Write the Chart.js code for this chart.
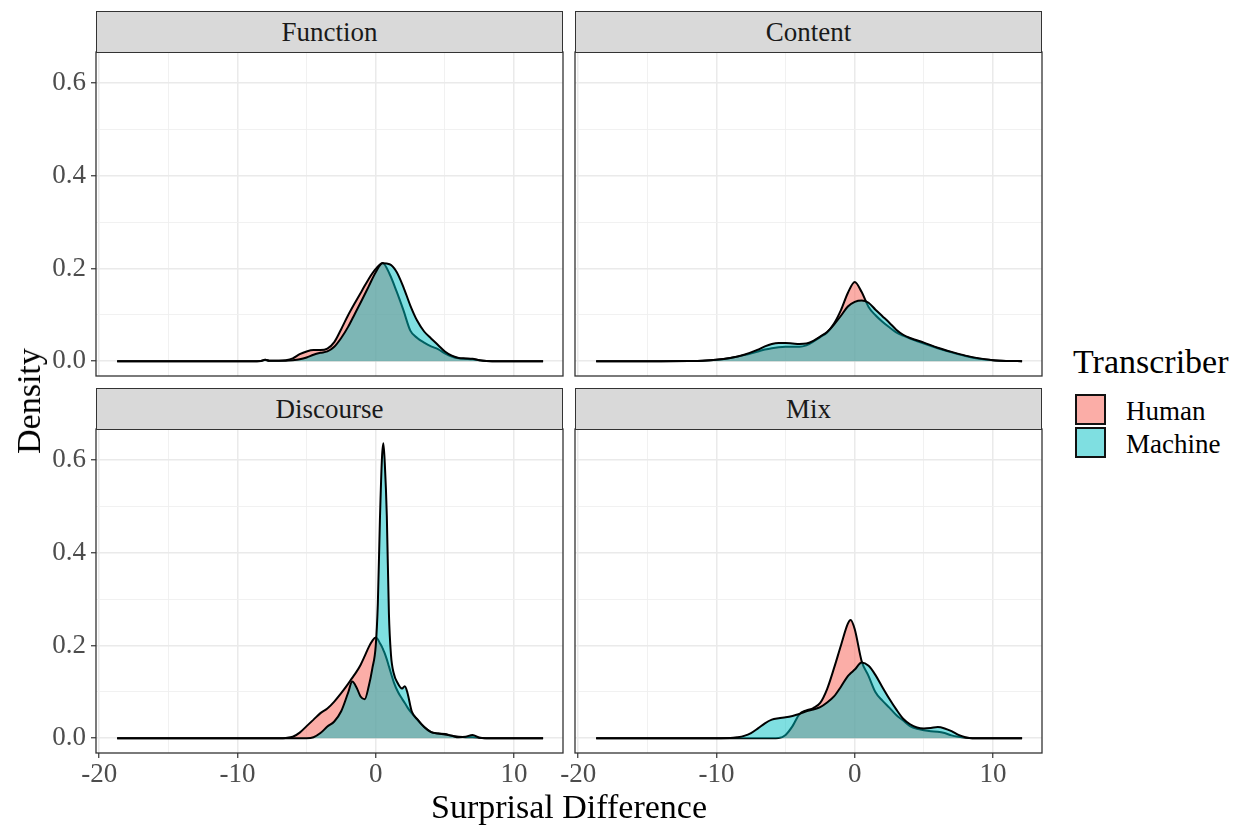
<!DOCTYPE html>
<html>
<head>
<meta charset="utf-8">
<script src="https://cdn.jsdelivr.net/npm/chart.js@4.4.0/dist/chart.umd.min.js"></script>
<style>
  body { margin: 0; background: #fff; }
  #fig { position: relative; width: 1246px; height: 827px; overflow: hidden;
         font-family: "Liberation Serif", "DejaVu Serif", serif; }
  #fig canvas { position: absolute; }
  .strip { position: absolute; box-sizing: border-box; background: #D9D9D9; border: 1.2px solid #333;
           color: #1A1A1A; font-size: 27px; display: flex; align-items: center; justify-content: center; }
  .title { position: absolute; font-size: 34px; line-height: 34px; color: #000; white-space: nowrap; }
  .key { position: absolute; left: 1075px; width: 31px; height: 31px; box-sizing: border-box; border: 2px solid #111; }
  .keylab { position: absolute; left: 1126px; font-size: 27px; line-height: 27px; color: #000; }
</style>
</head>
<body>
<div id="fig"></div>
<script>
// axis ticks (minor ones only carry a grid line)
const xTicks = [-20, -15, -10, -5, 0, 5, 10];
const xMajor = [-20, -10, 0, 10];
const yTicks = [0, 0.1, 0.2, 0.3, 0.4, 0.5, 0.6];
const yMajor = [0, 0.2, 0.4, 0.6];

const seriesNames = ['Human', 'Machine'];

// Function
const functionX = [-18.7, -12, -9, -8.3, -8, -7.7, -7, -6.5, -6, -5.5, -5, -4.5, -4, -3.5, -3, -2.5, -2, -1.5, -1, -0.5,
  0, 0.5, 1, 1.5, 2, 2.5, 3, 3.5, 4, 4.5, 5, 5.5, 6, 6.5, 7, 7.5, 8, 9, 12.1];
const functionHuman = [0, 0, 0, 0.0005, 0.003, 0.001, 0.001, 0.002, 0.006, 0.015, 0.021, 0.024, 0.024, 0.027, 0.041, 0.069, 0.099, 0.126, 0.152, 0.178,
  0.199, 0.212, 0.188, 0.151, 0.110, 0.066, 0.050, 0.040, 0.032, 0.026, 0.017, 0.010, 0.006, 0.005, 0.004, 0.002, 0.0005, 0, 0];
const functionMachine = [0, 0, 0, 0.0005, 0.003, 0.001, 0.001, 0.001, 0.002, 0.004, 0.008, 0.014, 0.018, 0.021, 0.031, 0.050, 0.074, 0.103, 0.132, 0.162,
  0.192, 0.211, 0.209, 0.193, 0.160, 0.120, 0.087, 0.064, 0.049, 0.035, 0.021, 0.012, 0.007, 0.006, 0.005, 0.002, 0.0005, 0, 0];

// Content
const contentX = [-18.7, -14, -12, -11, -10, -9, -8, -7, -6.5, -6, -5.5, -5, -4.5, -4, -3.5, -3, -2.5, -2, -1.5, -1, -0.5,
  0, 0.5, 1, 1.5, 2, 2.5, 3, 3.5, 4, 5, 6, 7, 8, 9, 10, 11, 12.1];
const contentHuman = [0, 0, 0.0003, 0.001, 0.003, 0.007, 0.013, 0.021, 0.025, 0.028, 0.030, 0.031, 0.031, 0.031, 0.034, 0.042, 0.052, 0.062, 0.081, 0.110, 0.147,
  0.171, 0.149, 0.117, 0.099, 0.085, 0.073, 0.062, 0.055, 0.049, 0.038, 0.028, 0.019, 0.011, 0.005, 0.002, 0.0005, 0];
const contentMachine = [0, 0, 0.0003, 0.001, 0.003, 0.007, 0.014, 0.025, 0.032, 0.037, 0.039, 0.039, 0.038, 0.037, 0.038, 0.044, 0.053, 0.063, 0.079, 0.098, 0.118,
  0.128, 0.131, 0.126, 0.111, 0.097, 0.083, 0.068, 0.057, 0.050, 0.040, 0.029, 0.020, 0.012, 0.006, 0.002, 0.0005, 0];

// Discourse
const discourseX = [-18.7, -12, -8, -7, -6.5, -6, -5.5, -5, -4.5, -4, -3.5, -3, -2.5, -2, -1.7, -1.4, -1.1, -0.8, -0.5, -0.25,
  0, 0.15, 0.3, 0.45, 0.55, 0.65, 0.8, 0.95, 1.1, 1.3, 1.6, 1.9, 2.1, 2.3, 2.6, 3, 3.5, 4, 4.5, 5, 5.5, 6, 6.5, 7, 7.5, 8, 9, 12.1];
const discourseHuman = [0, 0, 0, 0, 0.0005, 0.003, 0.012, 0.026, 0.040, 0.054, 0.064, 0.079, 0.097, 0.117, 0.130, 0.143, 0.158, 0.177, 0.197, 0.210,
  0.217, 0.213, 0.205, 0.197, 0.190, 0.183, 0.170, 0.155, 0.140, 0.121, 0.100, 0.085, 0.076, 0.066, 0.054, 0.040, 0.024, 0.013, 0.010, 0.009, 0.005, 0.003, 0.002, 0.002, 0.001, 0, 0, 0];
const discourseMachine = [0, 0, 0, 0, 0, 0, 0, 0, 0.002, 0.011, 0.025, 0.036, 0.058, 0.098, 0.122, 0.110, 0.090, 0.084, 0.113, 0.150,
  0.200, 0.290, 0.470, 0.605, 0.636, 0.595, 0.480, 0.270, 0.180, 0.140, 0.118, 0.107, 0.112, 0.097, 0.058, 0.041, 0.024, 0.013, 0.010, 0.008, 0.005, 0.002, 0.003, 0.007, 0.001, 0, 0, 0];

// Mix
const mixX = [-18.7, -12, -10, -9, -8.5, -8, -7.5, -7, -6.5, -6, -5.5, -5, -4.5, -4, -3.5, -3, -2.5, -2, -1.5, -1, -0.5, -0.3,
  0, 0.5, 1, 1.5, 2, 2.5, 3, 3.5, 4, 4.5, 5, 5.5, 6, 6.5, 7, 7.5, 8, 8.5, 9, 12.1];
const mixHuman = [0, 0, 0, 0, 0, 0, 0, 0, 0, 0, 0.0005, 0.007, 0.026, 0.052, 0.060, 0.065, 0.076, 0.106, 0.151, 0.200, 0.247, 0.255,
  0.235, 0.166, 0.134, 0.099, 0.081, 0.066, 0.050, 0.038, 0.026, 0.020, 0.017, 0.015, 0.014, 0.011, 0.006, 0.003, 0.001, 0, 0, 0];
const mixMachine = [0, 0, 0, 0.0003, 0.002, 0.005, 0.011, 0.021, 0.032, 0.040, 0.043, 0.045, 0.048, 0.052, 0.058, 0.062, 0.067, 0.077, 0.090, 0.111, 0.134, 0.140,
  0.148, 0.163, 0.156, 0.136, 0.110, 0.085, 0.062, 0.042, 0.030, 0.023, 0.021, 0.022, 0.024, 0.021, 0.015, 0.007, 0.002, 0, 0, 0];

const humanFill = 'rgba(248, 118, 109, 0.6)';
const machineFill = 'rgba(0, 191, 196, 0.5)';

const PLOT_W = 467, PLOT_H = 324, AXIS_W = 70, AXIS_H = 45, PAD = 6, STRIP_H = 41;

const panels = [
  { name: 'Function', xs: functionX, human: functionHuman, machine: functionMachine, left: 96, top: 52, xLab: false, yLab: true },
  { name: 'Content', xs: contentX, human: contentHuman, machine: contentMachine, left: 575, top: 52, xLab: false, yLab: false },
  { name: 'Discourse', xs: discourseX, human: discourseHuman, machine: discourseMachine, left: 96, top: 429, xLab: true, yLab: true },
  { name: 'Mix', xs: mixX, human: mixHuman, machine: mixMachine, left: 575, top: 429, xLab: true, yLab: false },
];

Chart.defaults.font.family = '"Liberation Serif", "DejaVu Serif", serif';

const fig = document.getElementById('fig');

const isIn = (list, v) => list.some((m) => Math.abs(m - v) < 1e-9);

// ggplot-like panel border drawn over the data
const panelBorder = {
  id: 'panelBorder',
  afterDraw(chart) {
    const { ctx, chartArea: a } = chart;
    ctx.save();
    ctx.strokeStyle = '#333';
    ctx.lineWidth = 1.3;
    ctx.strokeRect(a.left, a.top, a.right - a.left, a.bottom - a.top);
    ctx.restore();
  },
};

function gridFor(major, showTicks) {
  return {
    color: (c) => (isIn(major, c.tick.value) ? '#EAEAEA' : '#EFEFEF'),
    lineWidth: (c) => (isIn(major, c.tick.value) ? 1.5 : 0.9),
    tickColor: (c) => (isIn(major, c.tick.value) ? '#333' : 'rgba(0,0,0,0)'),
    tickWidth: 1.2,
    tickLength: 5,
    drawTicks: showTicks,
  };
}

// keep the plot area fixed: no extra room for labels hanging over the ends
function fixScale(s, size) {
  if (s.isHorizontal()) s.height = size;
  else s.width = size;
  s.paddingTop = 0;
  s.paddingBottom = 0;
  s.paddingLeft = 0;
  s.paddingRight = 0;
}

panels.forEach((p) => {
  const canvas = document.createElement('canvas');
  canvas.width = PLOT_W + AXIS_W + PAD;
  canvas.height = PLOT_H + AXIS_H + PAD;
  canvas.style.left = p.left - AXIS_W + 'px';
  canvas.style.top = p.top - PAD + 'px';
  fig.appendChild(canvas);

  new Chart(canvas, {
    type: 'line',
    data: {
      datasets: [
        {
          label: seriesNames[0],
          data: p.xs.map((x, i) => ({ x, y: p.human[i] })),
          backgroundColor: humanFill,
          borderColor: '#000',
          borderWidth: 2,
          fill: 'origin',
          pointRadius: 0,
          cubicInterpolationMode: 'monotone',
          order: 1,
        },
        {
          label: seriesNames[1],
          data: p.xs.map((x, i) => ({ x, y: p.machine[i] })),
          backgroundColor: machineFill,
          borderColor: '#000',
          borderWidth: 2,
          fill: 'origin',
          pointRadius: 0,
          cubicInterpolationMode: 'monotone',
          order: 0,
        },
      ],
    },
    options: {
      responsive: false,
      animation: false,
      events: [],
      layout: { padding: { left: 0, top: PAD, right: PAD, bottom: 0 } },
      plugins: { legend: { display: false }, tooltip: { enabled: false } },
      scales: {
        x: {
          type: 'linear',
          min: -20.23,
          max: 13.54,
          afterBuildTicks: (s) => { s.ticks = xTicks.map((v) => ({ value: v })); },
          afterFit: (s) => fixScale(s, AXIS_H),
          border: { display: false },
          grid: gridFor(xMajor, p.xLab),
          ticks: {
            display: p.xLab,
            autoSkip: false,
            maxRotation: 0,
            padding: 1,
            color: '#4D4D4D',
            font: { size: 27 },
            callback: (v) => (isIn(xMajor, v) ? String(v) : ''),
          },
        },
        y: {
          min: -0.032,
          max: 0.667,
          afterBuildTicks: (s) => { s.ticks = yTicks.map((v) => ({ value: v })); },
          afterFit: (s) => fixScale(s, AXIS_W),
          border: { display: false },
          grid: gridFor(yMajor, p.yLab),
          ticks: {
            display: p.yLab,
            autoSkip: false,
            padding: 5,
            color: '#4D4D4D',
            font: { size: 27 },
            callback: (v) => (isIn(yMajor, v) ? v.toFixed(1) : ''),
          },
        },
      },
    },
    plugins: [panelBorder],
  });

  const strip = document.createElement('div');
  strip.className = 'strip';
  strip.style.left = p.left + 'px';
  strip.style.top = p.top - STRIP_H + 'px';
  strip.style.width = PLOT_W + 'px';
  strip.style.height = STRIP_H + 1 + 'px';
  strip.textContent = p.name;
  fig.appendChild(strip);
});

// axis titles and legend
function addText(cls, text, css) {
  const el = document.createElement('div');
  el.className = cls;
  el.textContent = text;
  Object.assign(el.style, css);
  fig.appendChild(el);
  return el;
}

addText('title', 'Surprisal Difference', { left: '569px', top: '790px', transform: 'translateX(-50%)' });
addText('title', 'Density', { left: '29px', top: '401px', transform: 'translate(-50%, -50%) rotate(-90deg)' });
addText('title', 'Transcriber', { left: '1073px', top: '345px' });

addText('key', '', { top: '394px', background: humanFill });
addText('key', '', { top: '427px', background: machineFill });
addText('keylab', seriesNames[0], { top: '398px' });
addText('keylab', seriesNames[1], { top: '431px' });
</script>
</body>
</html>
